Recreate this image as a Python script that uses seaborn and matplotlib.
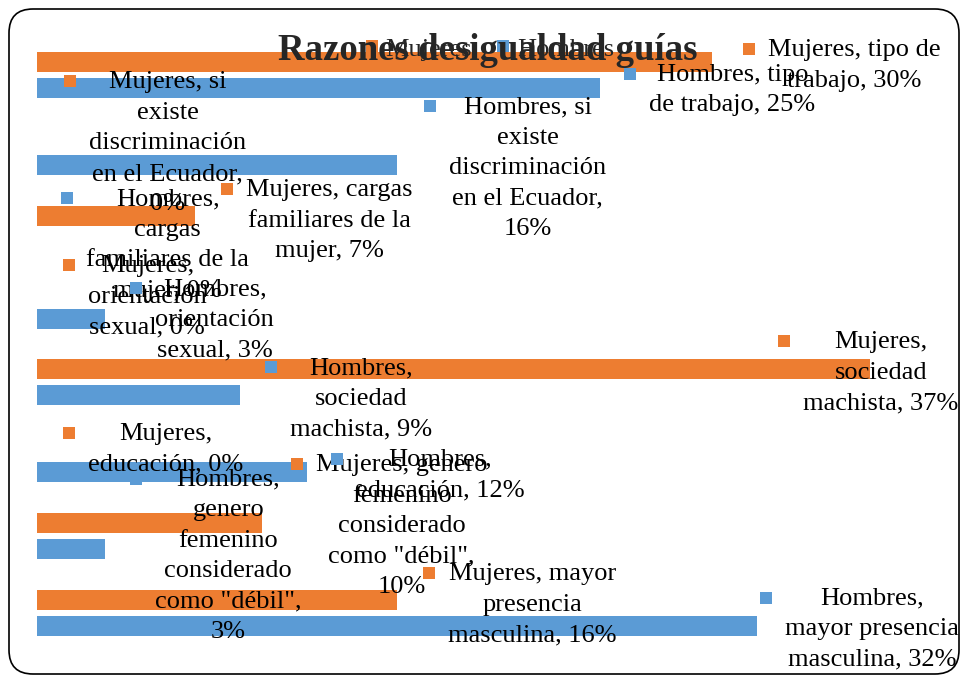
import matplotlib
matplotlib.use('Agg')
import matplotlib.pyplot as plt
from matplotlib.lines import Line2D
from matplotlib.patches import Rectangle, FancyBboxPatch
import pandas as pd
import seaborn as sns

# Datos (porcentajes)
razones = [
    'tipo de trabajo',
    'si existe discriminación en el Ecuador',
    'cargas familiares de la mujer',
    'orientación sexual',
    'sociedad machista',
    'educación',
    'genero femenino considerado como "débil"',
    'mayor presencia masculina',
]
mujeres = [30, 0, 7, 0, 37, 0, 10, 16]
hombres = [25, 16, 0, 3, 9, 12, 3, 32]
series = ['Mujeres', 'Hombres']
colores = ['#ED7D31', '#5B9BD5']

# Textos de las etiquetas (el valor se rellena desde los datos)
etiquetas_mujeres = [
    'Mujeres, tipo de\ntrabajo, {}%',
    'Mujeres, si\nexiste\ndiscriminación\nen el Ecuador,\n{}%',
    'Mujeres, cargas\nfamiliares de la\nmujer, {}%',
    'Mujeres,\norientación\nsexual, {}%',
    'Mujeres,\nsociedad\nmachista, {}%',
    'Mujeres,\neducación, {}%',
    'Mujeres, genero\nfemenino\nconsiderado\ncomo "débil",\n{}%',
    'Mujeres, mayor\npresencia\nmasculina, {}%',
]
etiquetas_hombres = [
    'Hombres, tipo\nde trabajo, {}%',
    'Hombres, si\nexiste\ndiscriminación\nen el Ecuador,\n{}%',
    'Hombres,\ncargas\nfamiliares de la\nmujer, {}%',
    'Hombres,\norientación\nsexual, {}%',
    'Hombres,\nsociedad\nmachista, {}%',
    'Hombres,\neducación, {}%',
    'Hombres,\ngenero\nfemenino\nconsiderado\ncomo "débil",\n{}%',
    'Hombres,\nmayor presencia\nmasculina, {}%',
]

# Posicion de cada etiqueta (centro del texto en %, primera linea en unidades de categoria)
pos_mujeres = [(36.3, -0.35), (5.8, 0.07), (13.0, 1.47), (4.9, 2.46),
               (37.5, 3.45), (5.7, 4.65), (16.2, 5.05), (22.0, 6.47)]
pos_hombres = [(30.9, -0.03), (21.8, 0.39), (5.8, 1.59), (7.9, 2.76),
               (14.4, 3.79), (17.9, 4.98), (8.5, 5.24), (37.1, 6.79)]

df = pd.DataFrame({'razon': razones, 'Mujeres': mujeres, 'Hombres': hombres})
largo = df.melt(id_vars='razon', var_name='serie', value_name='valor')

sns.set_style('white')
plt.rcParams['font.family'] = ['Liberation Serif', 'DejaVu Serif']
fs = 19

fig = plt.figure(figsize=(9.64, 6.77), dpi=100)
ax = fig.add_axes([0.0384, 0.0378, 0.934, 0.908])

sns.barplot(data=largo, x='valor', y='razon', hue='serie', hue_order=series,
            palette=colores, orient='h', width=0.677, gap=0.23, saturation=1,
            errorbar=None, linewidth=0, legend=False, ax=ax)
ax.set_xlim(0, 40)
ax.set_ylim(len(razones) - 0.5, -0.5)
ax.set_axis_off()

# Etiquetas de datos con su clave de leyenda
anotaciones = []
for etqs, vals, poss, col in [(etiquetas_mujeres, mujeres, pos_mujeres, colores[0]),
                              (etiquetas_hombres, hombres, pos_hombres, colores[1])]:
    for t, v, (x, y) in zip(etqs, vals, poss):
        a = ax.annotate(t.format(v), xy=(x, y), xytext=(0, 6.5), textcoords='offset points',
                        ha='center', va='top', multialignment='center', fontsize=fs,
                        linespacing=1.5, color='black', zorder=5, annotation_clip=False)
        anotaciones.append((a, col))

fig.canvas.draw()
renderer = fig.canvas.get_renderer()
for a, col in anotaciones:
    bb = a.get_window_extent(renderer)
    fig.add_artist(Rectangle((bb.x0 - 25, bb.y1 - 16), 12, 12, transform=None,
                             facecolor=col, edgecolor='none', zorder=6))

# Leyenda
handles = [Line2D([], [], ls='none', marker='s', markersize=8.6,
                  markerfacecolor=c, markeredgewidth=0) for c in colores]
fig.legend(handles, series, loc='center', bbox_to_anchor=(490 / 964, 1 - 49 / 677),
           ncol=2, frameon=False, fontsize=fs, handlelength=0.45, handletextpad=0.3,
           columnspacing=0.95, borderaxespad=0, borderpad=0)

# Titulo
fig.text(488 / 964, 1 - 50 / 677, 'Razones desigualdad guías', ha='center', va='center',
         fontsize=26.5, fontweight='bold', zorder=10)

# Borde redondeado
fig.add_artist(FancyBboxPatch((9, 3), 950, 665, boxstyle='round,pad=0,rounding_size=24',
                              transform=None, fill=False, edgecolor='black', linewidth=1.2,
                              zorder=20))

fig.savefig('out.png', dpi=100)
